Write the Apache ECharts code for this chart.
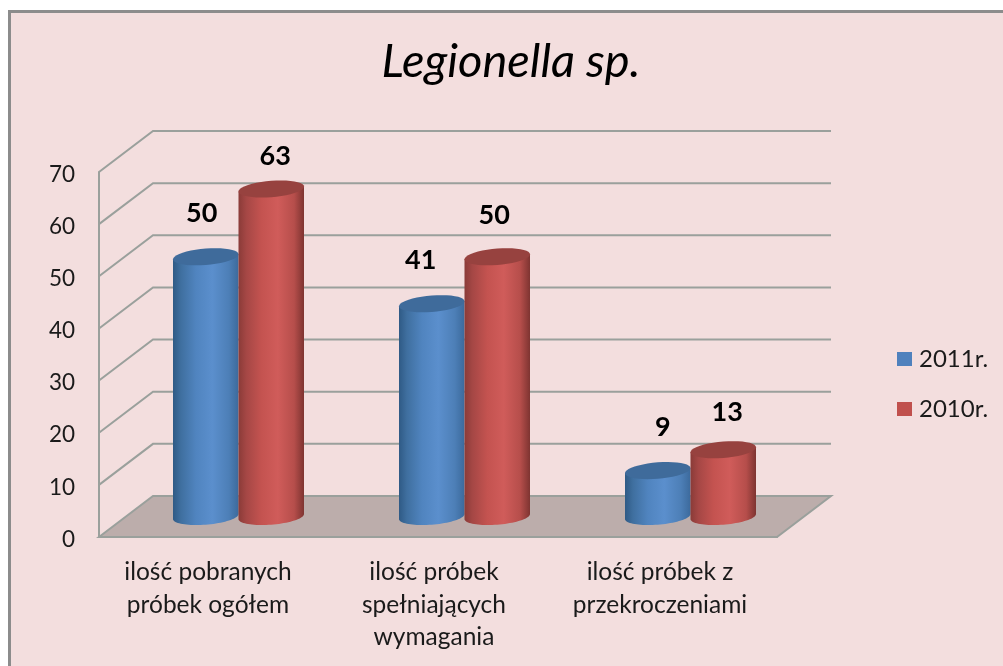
<!DOCTYPE html>
<html><head><meta charset="utf-8">
<style>html,body{margin:0;padding:0;background:#fff}#c{width:1003px;height:666px}</style>
<script src="https://cdn.jsdelivr.net/npm/echarts@6/dist/echarts.min.js"></script>
</head><body><div id="c"></div>
<script>
const categories = ['ilość pobranych\npróbek ogółem', 'ilość próbek\nspełniających\nwymagania', 'ilość próbek z\nprzekroczeniami'];
const values2011 = [50, 41, 9];
const values2010 = [63, 50, 13];
const yTicks = [0, 10, 20, 30, 40, 50, 60, 70];

const DX = 54, DY = 41;            // full wall depth
const MX = 26.5, MY = 19.5;        // depth of the bars
const R = 32.75, TILT = 2.5, B = 8.2;
const LIFT = [[43, 43, 43], [33, 41, 37]];
const LABEL_DX = [[-4, -11, 5], [4, -3, 4]];

function ellipse(cx, cy, from, to) {
  const pts = [], n = 40;
  for (let i = 0; i <= n; i++) {
    const t = from + (to - from) * i / n;
    pts.push([cx + R * Math.cos(t), cy - TILT * Math.cos(t) + B * Math.sin(t)]);
  }
  return pts;
}
function hGrad(stops) {
  return { type: 'linear', x: 0, y: 0, x2: 1, y2: 0,
    colorStops: stops.map(s => ({ offset: s[0], color: s[1] })) };
}
const PAL = [
  { body: hGrad([[0,'#2f5a85'],[0.12,'#3f6f9f'],[0.35,'#5084bf'],[0.6,'#5b8fcd'],[0.85,'#4d7fb7'],[1,'#3c6a9c']]),
    cap: '#3f6b9b', legend: '#4F81BD' },
  { body: hGrad([[0,'#8a3b38'],[0.12,'#a54745'],[0.35,'#c45350'],[0.6,'#d05c5a'],[0.85,'#b64e4b'],[1,'#7e3431']]),
    cap: '#97423f', legend: '#C0504D' }
];

function cylinder(sIdx) {
  return function (params, api) {
    const i = api.value(0), v = api.value(1);
    const top = api.coord([i, v]), base = api.coord([i, 0]);
    const cx = base[0] + MX + (sIdx === 0 ? -R : R);
    const yb = base[1] - MY - 1, yt = top[1] - MY;
    const p = PAL[sIdx];
    const body = ellipse(cx, yb, 0, Math.PI);
    body.push([cx - R, yt + TILT], [cx + R, yt - TILT]);
    return { type: 'group', children: [
      { type: 'polygon', shape: { points: body }, style: { fill: p.body } },
      { type: 'polygon', shape: { points: ellipse(cx, yt, 0, Math.PI * 2) }, style: { fill: p.cap } },
      { type: 'text', style: { text: String(v), x: cx + LABEL_DX[sIdx][i], y: yt - LIFT[sIdx][i],
          align: 'center', verticalAlign: 'middle', fill: '#000',
          font: 'bold 27px Lato' } }
    ] };
  };
}
function rows(arr) { return arr.map((v, i) => [i, v]); }

function wallRender(params, api) {
  const x0 = params.coordSys.x, x1 = x0 + params.coordSys.width;
  const y = api.coord([0, api.value(0)])[1];
  const lineStyle = { stroke: '#9aa09c', lineWidth: 2, fill: 'none' };
  const kids = [];
  if (api.value(0) === 0) {
    kids.push({ type: 'polygon', shape: { points: [[x0, y], [x0 + DX, y - DY], [x1 + DX, y - DY], [x1, y]] },
      style: { fill: '#bcadab', stroke: '#9aa09c', lineWidth: 2 } });
  } else {
    kids.push({ type: 'polyline', shape: { points: [[x0, y], [x0 + DX, y - DY], [x1 + DX, y - DY]] }, style: lineStyle });
  }
  return { type: 'group', children: kids };
}

const chart = echarts.init(document.getElementById('c'), null, { renderer: 'canvas' });
chart.setOption({
  animation: false,
  backgroundColor: '#ffffff',
  graphic: [{ type: 'rect', z: -10, shape: { x: 9.5, y: 11.5, width: 1100, height: 800 },
    style: { fill: '#f3dede', stroke: '#8c8c8c', lineWidth: 3 } }],
  title: { text: 'Legionella sp.', left: 511, top: 38, padding: 0, textAlign: 'center',
    textStyle: { fontFamily: 'Lato', fontStyle: 'italic', fontWeight: 'normal', fontSize: 47, color: '#000' } },
  legend: { orient: 'vertical', left: 897, top: 347, padding: 0, icon: 'rect', itemWidth: 15, itemHeight: 14, itemGap: 26,
    data: ['2011r.', '2010r.'],
    textStyle: { fontFamily: 'Lato', fontSize: 24, color: '#1a1a1a', padding: [0, 0, 0, 2] } },
  grid: { left: 99, top: 172, width: 678, height: 365 },
  xAxis: { type: 'category', data: categories,
    axisLine: { lineStyle: { color: '#9aa09c', width: 2 } }, axisTick: { show: false },
    axisLabel: { color: '#1a1a1a', fontFamily: 'Lato', fontSize: 24.5, lineHeight: 32.5, margin: 19, interval: 0, padding: [0, 8, 0, 0] } },
  yAxis: { type: 'value', min: 0, max: 70, interval: 10,
    axisLine: { show: true, lineStyle: { color: '#9aa09c', width: 2 } }, axisTick: { show: false },
    splitLine: { show: false },
    axisLabel: { color: '#1a1a1a', fontFamily: 'Lato', fontSize: 22.5, margin: 24, verticalAlign: 'top', lineHeight: 5 } },
  series: [
    { type: 'custom', name: 'walls', silent: true, data: yTicks.map(v => [v]), encode: { y: 0 }, renderItem: wallRender, z: 1 },
    { type: 'custom', name: '2011r.', data: rows(values2011), encode: { x: 0, y: 1 }, renderItem: cylinder(0), itemStyle: { color: PAL[0].legend }, z: 2 },
    { type: 'custom', name: '2010r.', data: rows(values2010), encode: { x: 0, y: 1 }, renderItem: cylinder(1), itemStyle: { color: PAL[1].legend }, z: 3 }
  ]
});
</script></body></html>
